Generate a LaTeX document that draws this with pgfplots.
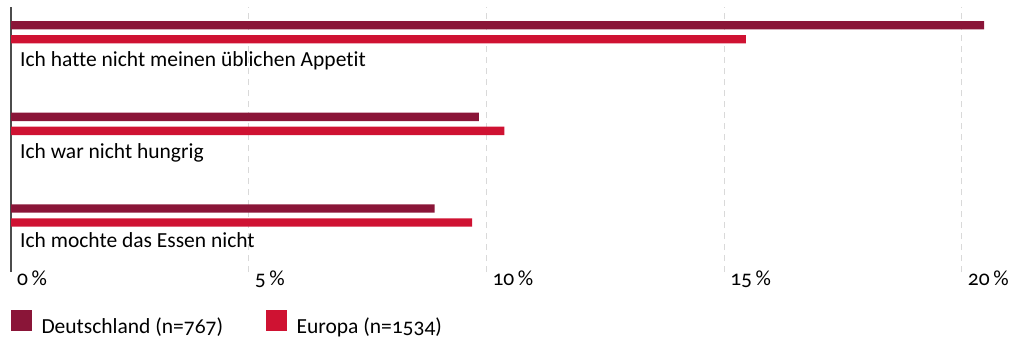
\documentclass[border=0pt]{standalone}
\usepackage{pgfplots}
\pgfplotsset{compat=1.18}
\usepackage{fontspec}
\setmainfont{Carlito}[Numbers=OldStyle, Ligatures=NoCommon]
\definecolor{de}{HTML}{8A1538}
\definecolor{eu}{HTML}{CF1232}
\definecolor{gridc}{HTML}{D9D9D9}
\begin{document}
\begin{tikzpicture}[font=\fontsize{21.5pt}{25pt}\selectfont]
\useasboundingbox (0,0) rectangle (1011pt,338pt);
\begin{axis}[
  at={(11pt,66pt)}, anchor=south west,
  scale only axis, width=998.3pt, height=265pt,
  xmin=0, xmax=21, ymin=-0.617, ymax=2.276,
  axis lines*=left,
  x axis line style={draw=none},
  y axis line style={draw=black!70, line width=1.8pt},
  ytick=\empty,
  xtick={0,5,10,15,20},
  xticklabels={0\,\%,5\,\%,10\,\%,15\,\%,20\,\%},
  major tick length=0pt,
  xticklabel style={anchor=base west, yshift=-13pt, xshift=6pt, inner sep=0pt},
  xmajorgrids,
  major grid style={gridc, line width=1pt, dash pattern=on 6pt off 5pt},
  legend columns=-1,
  legend cell align=left,
  legend style={at={(rel axis cs:0,-0.1434)}, anchor=north west, draw=none, fill=none,
    inner sep=0pt, outer sep=0pt, nodes={inner sep=0pt},
    /tikz/every odd column/.append style={column sep=9.5pt},
    /tikz/every even column/.append style={column sep=43pt}},
  legend image code/.code={\fill[#1] (0pt,-5pt) rectangle (21pt,16pt);},
]
\addplot[xbar, bar width=8.3pt, bar shift=7pt, fill=de, draw=none] coordinates {(20.47,2) (9.84,1) (8.91,0)};
\addlegendentry{Deutschland (n=767)}
\addplot[xbar, bar width=8.3pt, bar shift=-7pt, fill=eu, draw=none] coordinates {(15.46,2) (10.38,1) (9.70,0)};
\addlegendentry{Europa (n=1534)}
\node[anchor=base west, inner sep=0pt, xshift=9pt, yshift=-34.7pt] at (axis cs:0,2) {Ich hatte nicht meinen üblichen Appetit};
\node[anchor=base west, inner sep=0pt, xshift=9pt, yshift=-34.4pt] at (axis cs:0,1) {Ich war nicht hungrig};
\node[anchor=base west, inner sep=0pt, xshift=9pt, yshift=-31.8pt] at (axis cs:0,0) {Ich mochte das Essen nicht};
\end{axis}
\end{tikzpicture}
\end{document}
